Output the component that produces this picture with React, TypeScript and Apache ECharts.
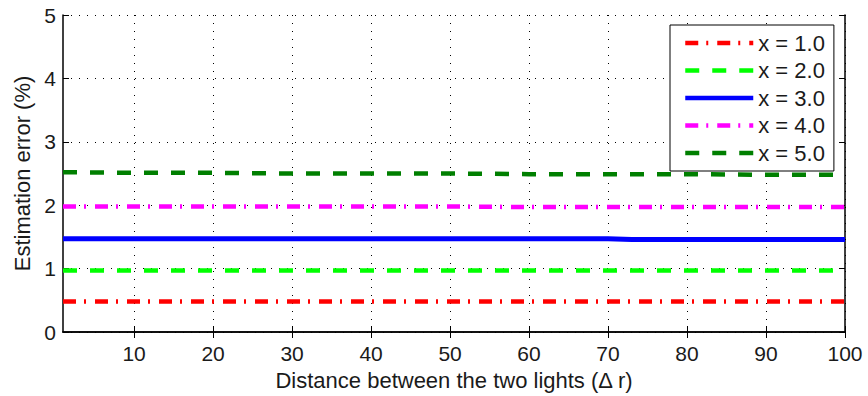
import React, { useEffect, useRef } from "react";
import * as echarts from "echarts";

const xValues = [1, 10, 20, 30, 40, 50, 60, 70, 73, 80, 90, 100];
const seriesNames = ["x = 1.0", "x = 2.0", "x = 3.0", "x = 4.0", "x = 5.0"];
const red = [0.48, 0.48, 0.48, 0.48, 0.48, 0.48, 0.48, 0.48, 0.48, 0.48, 0.48, 0.48];
const lightGreen = [0.97, 0.97, 0.97, 0.97, 0.97, 0.97, 0.97, 0.97, 0.97, 0.97, 0.97, 0.97];
const blue = [1.47, 1.47, 1.47, 1.47, 1.47, 1.47, 1.47, 1.47, 1.46, 1.46, 1.46, 1.46];
const magenta = [1.98, 1.98, 1.98, 1.98, 1.98, 1.98, 1.97, 1.97, 1.97, 1.97, 1.97, 1.97];
const darkGreen = [2.52, 2.51, 2.51, 2.5, 2.5, 2.5, 2.49, 2.49, 2.49, 2.49, 2.48, 2.48];
const xTicks = [10, 20, 30, 40, 50, 60, 70, 80, 90, 100];

const colors = ["#ff0000", "#00ff00", "#0000ff", "#ff00ff", "#007f00"];
const dashes: any[] = [
  [13, 8, 2, 9],
  [14, 13],
  "solid",
  [13, 8, 2, 9],
  [14, 13],
];
const FONT = "Liberation Sans, Arial, sans-serif";
const TXT = "#1a1a1a";

export default function App() {
  const ref = useRef<HTMLDivElement>(null);
  useEffect(() => {
    document.body.style.margin = "0";
    const chart = echarts.init(ref.current!, null, { renderer: "svg" });
    const all = [red, lightGreen, blue, magenta, darkGreen];
    const axisLine = { show: true, lineStyle: { color: "#000", width: 1.5 } };
    const split = { show: true, lineStyle: { color: "#000", type: [1, 7], width: 1 } };
    chart.setOption({
      animation: false,
      backgroundColor: "#fff",
      grid: { left: 63, top: 15, right: 23, bottom: 63 },
      legend: {
        orient: "vertical",
        left: 670,
        top: 25,
        padding: [7, 9, 7, 13],
        itemGap: 5.5,
        itemWidth: 68,
        itemHeight: 14,
        backgroundColor: "#fff",
        borderColor: "#000",
        borderWidth: 1,
        itemStyle: { opacity: 0 },
        lineStyle: { width: 4.5 },
        textStyle: { fontFamily: FONT, fontSize: 22, color: TXT, lineHeight: 22 },
        data: seriesNames,
      },
      xAxis: [
        {
          type: "value",
          min: 1,
          max: 100,
          name: "Distance between the two lights (\u0394 r)",
          nameLocation: "middle",
          nameGap: 37,
          nameTextStyle: { fontFamily: FONT, fontSize: 22, color: TXT },
          axisLine,
          axisTick: { show: true, inside: true, length: 6, customValues: xTicks, lineStyle: { color: "#000" } },
          axisLabel: { customValues: xTicks, fontFamily: FONT, fontSize: 21, color: TXT, margin: 11 },
          splitLine: split,
        },
        {
          type: "value",
          position: "top",
          min: 1,
          max: 100,
          axisLine,
          axisTick: { show: true, inside: true, length: 6, customValues: xTicks, lineStyle: { color: "#000" } },
          axisLabel: { show: false },
          splitLine: { show: false },
        },
      ],
      yAxis: [
        {
          type: "value",
          min: 0,
          max: 5,
          interval: 1,
          name: "Estimation error (%)",
          nameLocation: "middle",
          nameGap: 28,
          nameTextStyle: { fontFamily: FONT, fontSize: 22, color: TXT },
          axisLine,
          axisTick: { show: true, inside: true, length: 6, lineStyle: { color: "#000" } },
          axisLabel: { fontFamily: FONT, fontSize: 21, color: TXT, margin: 7 },
          splitLine: split,
        },
        {
          type: "value",
          position: "right",
          min: 0,
          max: 5,
          interval: 1,
          axisLine,
          axisTick: { show: true, inside: true, length: 6, lineStyle: { color: "#000" } },
          axisLabel: { show: false },
          splitLine: { show: false },
        },
      ],
      series: seriesNames.map((name, i) => ({
        name,
        type: "line",
        symbol: "none",
        showSymbol: false,
        color: colors[i],
        lineStyle: { color: colors[i], width: i === 2 ? 5 : 4.5, type: dashes[i], cap: "butt" },
        data: xValues.map((x, j) => [x, all[i][j]]),
      })),
    });
    return () => chart.dispose();
  }, []);
  return <div ref={ref} style={{ width: 868, height: 396 }} />;
}
